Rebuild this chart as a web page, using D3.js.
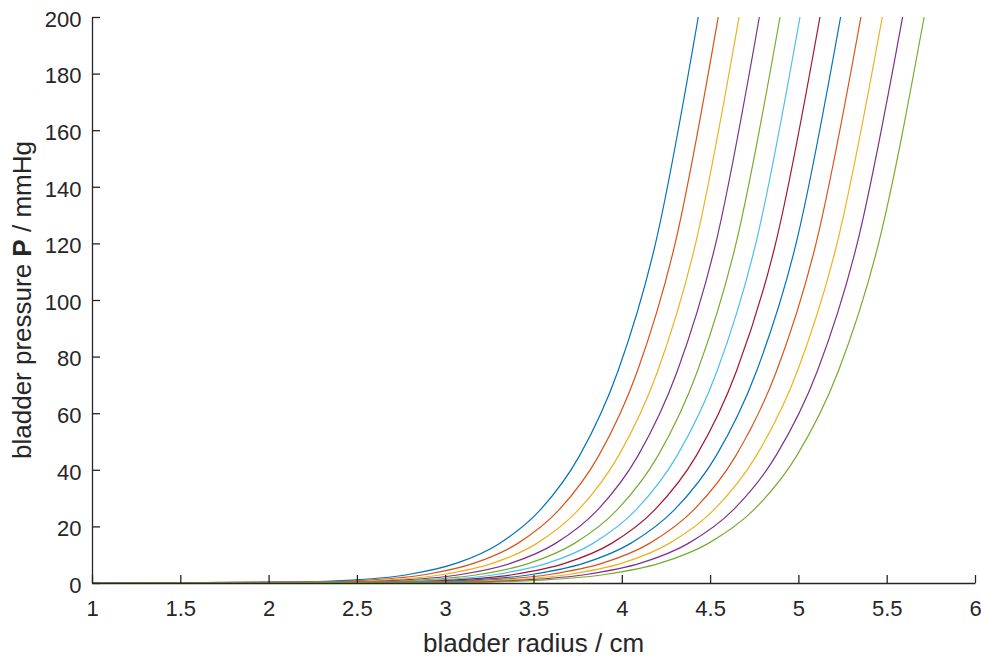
<!DOCTYPE html>
<html>
<head>
<meta charset="utf-8">
<script src="https://cdn.jsdelivr.net/npm/d3@7"></script>
<style>
  html, body { margin: 0; padding: 0; background: #fff; }
  svg { display: block; font-family: "Liberation Sans", Arial, Helvetica, sans-serif; }
</style>
</head>
<body>
<svg id="chart" width="981" height="659"></svg>
<script>
// Pressure levels (mmHg) at which each curve's radius is tabulated
const pressureLevels = [0, 0.3, 1, 3, 7, 14, 26, 45, 75, 120, 200];

// Bladder radius (cm) reached at each pressure level, one array per curve
const radiusC1  = [1, 2.166, 2.473, 2.792, 3.065, 3.308, 3.541, 3.761, 3.979, 4.191, 4.433];
const radiusC2  = [1, 2.253, 2.565, 2.889, 3.165, 3.411, 3.647, 3.870, 4.089, 4.302, 4.546];
const radiusC3  = [1, 2.342, 2.661, 2.989, 3.270, 3.519, 3.757, 3.982, 4.204, 4.418, 4.664];
const radiusC4  = [1, 2.431, 2.755, 3.088, 3.373, 3.625, 3.866, 4.092, 4.315, 4.532, 4.779];
const radiusC5  = [1, 2.522, 2.851, 3.190, 3.478, 3.732, 3.976, 4.205, 4.429, 4.647, 4.896];
const radiusC6  = [1, 2.611, 2.946, 3.288, 3.580, 3.837, 4.083, 4.313, 4.540, 4.759, 5.009];
const radiusC7  = [1, 2.699, 3.039, 3.387, 3.681, 3.942, 4.189, 4.422, 4.650, 4.871, 5.122];
const radiusC8  = [1, 2.792, 3.137, 3.489, 3.787, 4.050, 4.300, 4.535, 4.764, 4.987, 5.239];
const radiusC9  = [1, 2.884, 3.234, 3.590, 3.891, 4.157, 4.410, 4.646, 4.877, 5.100, 5.354];
const radiusC10 = [1, 2.980, 3.335, 3.696, 4.001, 4.269, 4.524, 4.762, 4.995, 5.219, 5.475];
const radiusC11 = [1, 3.073, 3.433, 3.798, 4.106, 4.377, 4.634, 4.873, 5.108, 5.333, 5.590];
const radiusC12 = [1, 3.171, 3.536, 3.906, 4.217, 4.490, 4.750, 4.991, 5.227, 5.454, 5.712];

const seriesRadii = [radiusC1, radiusC2, radiusC3, radiusC4, radiusC5, radiusC6,
                     radiusC7, radiusC8, radiusC9, radiusC10, radiusC11, radiusC12];

// Axis ticks
const xTicks = [1, 1.5, 2, 2.5, 3, 3.5, 4, 4.5, 5, 5.5, 6];
const yTicks = [0, 20, 40, 60, 80, 100, 120, 140, 160, 180, 200];

// Default line colour order, cycled through the curves
const lineColors = ["#0072BD", "#D95319", "#EDB120", "#7E2F8E", "#77AC30", "#4DBEEE", "#A2142F"];

(function drawChart() {
  const axisColor = "#262626";
  const svg = d3.select("#chart");
  const plotLeft = 92, plotRight = 975, plotTop = 17, plotBottom = 583;

  const x = d3.scaleLinear().domain([1, 6]).range([plotLeft, plotRight]);
  const y = d3.scaleLinear().domain([0, 200]).range([plotBottom, plotTop]);

  // Curves
  const line = d3.line()
    .x(d => x(d.r))
    .y(d => y(d.p))
    .curve(d3.curveMonotoneX);

  const curvesG = svg.append("g");
  seriesRadii.forEach((radii, i) => {
    const pts = radii.map((r, k) => ({ r: r, p: pressureLevels[k] }));
    curvesG.append("path")
      .datum(pts)
      .attr("fill", "none")
      .attr("stroke", lineColors[i % lineColors.length])
      .attr("stroke-width", 1.2)
      .attr("d", line);
  });

  // Axes (left and bottom only, ticks pointing inward)
  const fmt = d => String(d);
  const xAxis = svg.append("g")
    .attr("transform", `translate(0,${plotBottom})`)
    .call(d3.axisBottom(x).tickValues(xTicks).tickFormat(fmt)
      .tickSizeInner(-8).tickSizeOuter(0).tickPadding(17.5));
  const yAxis = svg.append("g")
    .attr("transform", `translate(${plotLeft},0)`)
    .call(d3.axisLeft(y).tickValues(yTicks).tickFormat(fmt)
      .tickSizeInner(-8).tickSizeOuter(0).tickPadding(10.5));

  [xAxis, yAxis].forEach(g => {
    g.select(".domain").attr("stroke", axisColor).attr("stroke-width", 1.3);
    g.selectAll(".tick line").attr("stroke", axisColor).attr("stroke-width", 1.3);
    g.selectAll(".tick text")
      .attr("fill", axisColor)
      .style("font-size", "22px")
      .style("font-family", "'Liberation Sans', Arial, Helvetica, sans-serif");
  });
  yAxis.selectAll(".tick text").attr("dy", "0.42em");

  // Axis titles
  svg.append("text")
    .attr("x", (plotLeft + plotRight) / 2)
    .attr("y", 652)
    .attr("text-anchor", "middle")
    .attr("fill", axisColor)
    .style("font-size", "26px")
    .text("bladder radius / cm");

  const yTitle = svg.append("text")
    .attr("transform", `translate(31,${(plotTop + plotBottom) / 2}) rotate(-90)`)
    .attr("text-anchor", "middle")
    .attr("fill", axisColor)
    .style("font-size", "26px");
  yTitle.append("tspan").text("bladder pressure ");
  yTitle.append("tspan").style("font-weight", "bold").text("P");
  yTitle.append("tspan").text(" / mmHg");
})();
</script>
</body>
</html>
